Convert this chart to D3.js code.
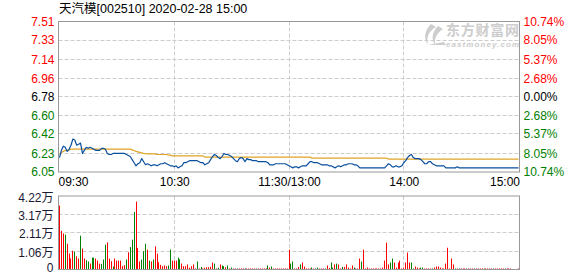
<!DOCTYPE html>
<html><head><meta charset="utf-8">
<script src="https://cdn.jsdelivr.net/npm/d3@7"></script>
<style>
body{margin:0;background:#fff;}
svg{display:block;}
text{font-family:"Liberation Sans",Arial,"Noto Sans CJK SC",sans-serif;}
</style>
</head><body>
<svg id="c" width="578" height="276"></svg>
<script>
const title = "天汽模[002510] 2020-02-28 15:00";
const prevClose = 6.78;
const priceTicks = [7.51, 7.33, 7.14, 6.96, 6.78, 6.60, 6.42, 6.23, 6.05];
const pctLabels = ["10.74%", "8.05%", "5.37%", "2.68%", "0.00%", "2.68%", "5.37%", "8.05%", "10.74%"];
const volTicks = [4.22, 3.17, 2.11, 1.06, 0];
const volLabels = ["4.22万", "3.17万", "2.11万", "1.06万", "0"];
const timeTicks = [0, 60, 120, 180, 240];
const timeLabels = ["09:30", "10:30", "11:30/13:00", "14:00", "15:00"];

// minute prices (09:30 .. 15:00)
const price = [
6.19,6.26,6.30,6.29,6.25,6.27,6.31,6.37,6.36,6.31,
6.32,6.33,6.23,6.26,6.29,6.28,6.29,6.28,6.27,6.26,
6.26,6.26,6.28,6.28,6.27,6.23,6.22,6.22,6.23,6.23,
6.23,6.23,6.23,6.23,6.23,6.22,6.21,6.20,6.17,6.14,
6.11,6.13,6.14,6.18,6.15,6.12,6.13,6.12,6.11,6.12,
6.12,6.11,6.12,6.13,6.13,6.14,6.13,6.12,6.11,6.11,
6.10,6.11,6.09,6.10,6.11,6.14,6.14,6.15,6.16,6.16,
6.16,6.16,6.16,6.15,6.14,6.14,6.12,6.13,6.14,6.17,
6.20,6.22,6.21,6.19,6.18,6.20,6.23,6.22,6.22,6.21,
6.20,6.18,6.16,6.15,6.18,6.19,6.18,6.15,6.18,6.17,
6.17,6.16,6.16,6.16,6.15,6.15,6.15,6.15,6.15,6.14,
6.12,6.12,6.12,6.13,6.13,6.13,6.13,6.13,6.13,6.12,
6.11,6.10,6.09,6.10,6.10,6.09,6.10,6.11,6.11,6.11,
6.13,6.15,6.15,6.14,6.14,6.14,6.13,6.12,6.12,6.12,
6.12,6.11,6.11,6.10,6.09,6.10,6.11,6.10,6.11,6.12,
6.12,6.13,6.13,6.13,6.12,6.12,6.11,6.09,6.09,6.09,
6.09,6.09,6.09,6.09,6.09,6.09,6.09,6.09,6.09,6.09,
6.09,6.11,6.13,6.12,6.10,6.10,6.11,6.10,6.10,6.11,
6.14,6.16,6.19,6.21,6.22,6.19,6.18,6.18,6.18,6.17,
6.15,6.13,6.13,6.15,6.15,6.13,6.12,6.11,6.11,6.11,
6.11,6.11,6.09,6.09,6.09,6.09,6.09,6.09,6.10,6.09,
6.09,6.09,6.09,6.09,6.09,6.09,6.09,6.09,6.09,6.09,
6.09,6.09,6.09,6.09,6.09,6.09,6.09,6.09,6.09,6.09,
6.09,6.09,6.09,6.09,6.09,6.09,6.09,6.09,6.09,6.09,
6.09
];

// average price line
const avgPrice = [
6.22,6.24,6.25,6.26,6.26,6.265,6.272,6.272,6.272,6.272,
6.272,6.272,6.272,6.272,6.272,6.272,6.272,6.272,6.272,6.272,
6.272,6.272,6.272,6.272,6.272,6.272,6.272,6.272,6.272,6.272,
6.272,6.272,6.272,6.272,6.272,6.272,6.272,6.272,6.265,6.258,
6.25,6.245,6.24,6.235,6.23,6.228,6.226,6.226,6.226,6.226,
6.226,6.22,6.22,6.22,6.22,6.22,6.22,6.214,6.214,6.207,
6.207,6.207,6.207,6.207,6.207,6.207,6.207,6.207,6.207,6.207,
6.207,6.207,6.207,6.207,6.207,6.207,6.194,6.194,6.194,6.194,
6.194,6.194,6.194,6.194,6.194,6.194,6.194,6.194,6.194,6.194,
6.194,6.194,6.194,6.194,6.194,6.194,6.194,6.194,6.194,6.194,
6.194,6.194,6.194,6.194,6.194,6.194,6.194,6.194,6.194,6.194,
6.194,6.194,6.194,6.194,6.194,6.194,6.194,6.194,6.194,6.194,
6.194,6.194,6.194,6.194,6.194,6.194,6.194,6.194,6.194,6.194,
6.194,6.194,6.185,6.185,6.185,6.185,6.185,6.185,6.185,6.185,
6.185,6.185,6.185,6.185,6.185,6.185,6.185,6.185,6.185,6.185,
6.185,6.185,6.185,6.185,6.185,6.185,6.185,6.185,6.185,6.185,
6.185,6.185,6.185,6.185,6.185,6.185,6.185,6.185,6.185,6.185,
6.185,6.185,6.175,6.175,6.175,6.175,6.175,6.175,6.175,6.175,
6.175,6.175,6.175,6.175,6.175,6.175,6.175,6.175,6.175,6.175,
6.175,6.175,6.175,6.175,6.175,6.175,6.175,6.175,6.175,6.175,
6.175,6.175,6.175,6.175,6.175,6.175,6.175,6.175,6.175,6.175,
6.175,6.175,6.175,6.175,6.175,6.175,6.175,6.175,6.175,6.175,
6.175,6.175,6.175,6.175,6.175,6.175,6.175,6.175,6.175,6.175,
6.175,6.175,6.175,6.175,6.175,6.175,6.175,6.175,6.175,6.175,
6.175
];

// minute volume (万)
const volume = [
3.67,2.22,2.07,2.00,1.48,0.91,0.63,1.08,1.03,0.76,
0.63,1.94,1.20,0.63,0.53,0.46,0.34,0.68,0.68,0.63,
0.51,0.34,0.32,0.57,1.43,1.56,0.63,0.48,0.17,0.63,
0.51,0.51,0.51,0.19,0.25,0.57,0.99,1.29,1.71,3.31,
3.90,1.24,0.46,0.57,1.05,1.48,1.14,0.51,0.46,0.57,
1.33,0.91,0.42,0.27,0.19,0.23,0.19,0.23,1.14,0.51,
0.51,0.51,0.68,0.59,0.34,0.19,0.19,0.29,0.10,0.19,
0.29,0.06,0.46,0.06,0.15,0.06,0.10,0.13,0.13,0.15,
0.40,0.34,0.06,0.10,0.29,0.23,0.19,0.13,0.23,0.06,
0.11,0.06,0.06,0.06,0.06,0.06,0.06,0.06,0.06,0.06,
0.06,0.06,0.06,0.06,0.06,0.06,0.06,0.06,0.06,0.23,
0.11,0.17,0.06,0.06,0.06,0.06,0.06,0.06,0.06,0.06,
1.14,0.34,0.46,0.06,0.06,0.15,0.29,0.40,0.17,0.06,
0.06,0.06,0.11,0.06,0.06,0.11,0.06,0.06,0.06,0.06,
0.23,0.09,0.40,0.11,0.29,0.34,0.29,0.06,0.15,0.15,
0.29,0.11,0.06,0.23,0.11,0.06,0.06,0.63,0.46,1.14,
0.06,0.11,0.06,0.06,0.06,0.06,0.06,0.06,0.06,0.11,
0.51,1.54,0.29,0.40,0.63,0.40,0.11,0.40,0.51,0.06,
0.11,0.40,0.97,0.40,0.40,0.06,0.17,0.11,0.06,0.11,
0.11,0.06,0.06,0.06,0.06,0.06,0.11,0.17,0.17,0.11,
0.06,0.06,0.34,1.25,0.06,0.63,0.29,0.06,0.06,0.06,
0.06,0.06,0.06,0.06,0.06,0.06,0.06,0.06,0.06,0.06,
0.06,0.06,0.06,0.06,0.06,0.06,0.06,0.06,0.06,0.06,
0.06,0.06,0.06,0.06,0.06,0.06,0.06,0,0,0,
0.06
];
// bar direction per minute: u = up (red), d = down (green)
const volDir = [
"u","u","u","d","u","u","u","u","d","u",
"u","d","u","u","d","d","u","d","d","u",
"u","u","d","d","d","u","u","u","d","u",
"u","u","u","u","u","d","u","d","d","d",
"u","u","u","d","d","d","u","d","u","d",
"u","u","u","u","u","u","u","d","d","u",
"u","u","d","d","u","u","u","u","u","u",
"u","u","d","u","d","u","u","u","u","u",
"u","d","u","d","u","d","d","u","d","u",
"d","u","u","d","u","u","u","d","u","u",
"u","u","u","d","u","u","u","u","u","d",
"u","d","u","u","u","u","u","u","u","u",
"u","d","d","u","u","u","d","u","u","u",
"u","u","d","u","d","d","u","u","u","d",
"u","u","d","d","u","d","u","u","d","u",
"u","u","u","u","d","u","u","u","d","u",
"u","u","u","u","u","u","u","u","u","u",
"u","u","u","d","d","u","u","u","u","u",
"u","u","u","u","d","d","u","u","u","d",
"d","u","u","u","u","d","u","u","u","u",
"u","u","u","u","u","u","u","d","u","d",
"u","u","u","d","u","u","u","d","u","u",
"u","u","d","u","u","u","u","d","u","u",
"u","u","u","d","u","u","u","u","u","u",
"u"
];

const svg = d3.select("#c");
const L = 58.5, R = 519.5, PT = 21.5, PB = 172, VT = 196, VB = 269.5;
const RED = "#ff0000", GREEN = "#008000";

const x = d3.scaleLinear().domain([0, 240]).range([59.5, 518.5]);
const y = d3.scaleLinear().domain([6.05, 7.51]).range([PB, PT]);
const yv = d3.scaleLinear().domain([0, 4.22]).range([VB, VT]);
const crisp = v => Math.floor(v) + 0.5;
const dash = "4,2";

// watermark
const wm = svg.append("g").attr("fill", "#cdcdcd");
wm.append("path")
  .attr("d", "M431,24 C425,30 423,38 428,45 C426,37 429,31 436,27 Z M438,26 C432,32 431,39 435,45 C434,38 437,33 443,29 Z M428,45 L446,45 L444,42 C438,43 433,44 428,45 Z");
wm.append("text").attr("x", 446).attr("y", 35).attr("font-size", 14).attr("font-weight", "bold")
  .attr("font-family", "Noto Sans CJK SC").attr("textLength", 73).text("东方财富网");
wm.append("text").attr("x", 446).attr("y", 47).attr("font-size", 8).attr("font-weight", "bold")
  .attr("font-style", "italic").attr("textLength", 73).attr("font-family", "DejaVu Sans").text("eastmoney.com");

// grid: price
const grid = svg.append("g").attr("stroke", "#cccccc").attr("stroke-dasharray", dash).attr("stroke-width", 1);
grid.selectAll("line.h").data(priceTicks.slice(1, -1)).join("line")
  .attr("x1", L).attr("x2", R).attr("y1", d => crisp(y(d))).attr("y2", d => crisp(y(d)));
grid.selectAll("line.v").data(timeTicks.slice(1, -1)).join("line").attr("class", "v")
  .attr("x1", d => crisp(x(d))).attr("x2", d => crisp(x(d))).attr("y1", PT).attr("y2", PB);
// grid: volume
const vgrid = svg.append("g").attr("stroke", "#cccccc").attr("stroke-dasharray", dash).attr("stroke-width", 1);
vgrid.selectAll("line.h").data(volTicks.slice(1, -1)).join("line")
  .attr("x1", L).attr("x2", R).attr("y1", d => crisp(yv(d))).attr("y2", d => crisp(yv(d)));
vgrid.selectAll("line.v").data(timeTicks.slice(1, -1)).join("line").attr("class", "v")
  .attr("x1", d => crisp(x(d))).attr("x2", d => crisp(x(d))).attr("y1", VT).attr("y2", VB);

// lines
svg.append("path").datum(avgPrice).attr("fill", "none").attr("stroke", "#e0a42a").attr("stroke-width", 1.2)
  .attr("d", d3.line().x((d, i) => x(i)).y(d => y(d)));
svg.append("path").datum(price).attr("fill", "none").attr("stroke", "#0a4f9e").attr("stroke-width", 1.2)
  .attr("stroke-linejoin", "round")
  .attr("d", d3.line().x((d, i) => x(i)).y(d => y(d)));

// volume bars
svg.append("g").selectAll("rect").data(volume).join("rect")
  .attr("x", (d, i) => Math.floor(x(i)))
  .attr("width", 1)
  .attr("y", d => yv(d))
  .attr("height", d => Math.max(0, VB - yv(d)))
  .attr("fill", (d, i) => volDir[i] === "d" ? GREEN : RED);

// frames
svg.append("rect").attr("x", L).attr("y", PT).attr("width", R - L).attr("height", PB - PT)
  .attr("fill", "none").attr("stroke", "#999").attr("stroke-width", 1);
svg.append("rect").attr("x", L).attr("y", VT).attr("width", R - L).attr("height", VB - VT)
  .attr("fill", "none").attr("stroke", "#999").attr("stroke-width", 1);

const colorFor = d => d > prevClose ? RED : (d < prevClose ? GREEN : "#000");

// left price axis
const la = svg.append("g").attr("transform", `translate(${L},0)`)
  .call(d3.axisLeft(y).tickValues(priceTicks).tickSize(0).tickPadding(4).tickFormat(d3.format(".2f")));
la.select(".domain").remove();
la.selectAll("text").attr("font-size", 12).attr("font-family", "Liberation Sans").attr("fill", d => colorFor(d));

// right pct axis
const ra = svg.append("g").attr("transform", `translate(${R},0)`)
  .call(d3.axisRight(y).tickValues(priceTicks).tickSize(0).tickPadding(4).tickFormat((d, i) => pctLabels[i]));
ra.select(".domain").remove();
ra.selectAll("text").attr("font-size", 12).attr("font-family", "Liberation Sans").attr("fill", d => colorFor(d));

// volume axis
const va = svg.append("g").attr("transform", `translate(${L},0)`)
  .call(d3.axisLeft(yv).tickValues(volTicks).tickSize(0).tickPadding(5).tickFormat((d, i) => volLabels[i]));
va.select(".domain").remove();
va.selectAll("text").attr("font-size", 12).attr("fill", "#1a1a33")
  .attr("dy", d => d === 0 ? "0.2em" : "0.42em");

// time axis
const ta = svg.append("g").attr("transform", `translate(0,${PB})`)
  .call(d3.axisBottom(x).tickValues(timeTicks).tickSize(0).tickPadding(5).tickFormat((d, i) => timeLabels[i]));
ta.select(".domain").remove();
ta.selectAll("text").attr("font-size", 12).attr("fill", "#000")
  .attr("text-anchor", (d, i) => i === 0 ? "start" : (i === timeTicks.length - 1 ? "end" : "middle"))
  .attr("x", (d, i) => i === 0 ? -1.5 : (i === timeTicks.length - 1 ? 1 : 0));
svg.selectAll(".tick line").remove();

// title
svg.append("text").attr("x", 59).attr("y", 13).attr("font-size", 12.5).attr("fill", "#000").text(title);
</script>
</body></html>
